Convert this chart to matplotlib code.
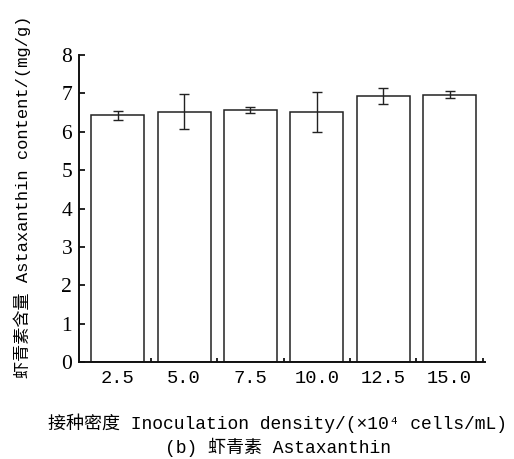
import matplotlib
matplotlib.use("Agg")
import matplotlib.pyplot as plt
import numpy as np

# inoculation density (x10^4 cells/mL) vs astaxanthin content (mg/g)
densities = ["2.5", "5.0", "7.5", "10.0", "12.5", "15.0"]
astaxanthin = [6.43, 6.53, 6.57, 6.51, 6.93, 6.97]
astaxanthin_err = [0.11, 0.45, 0.08, 0.52, 0.20, 0.10]
y_ticks = [0, 1, 2, 3, 4, 5, 6, 7, 8]

# monospace latin with CJK fallback, like a Song-style typeset figure
MONO = ["Liberation Mono", "DejaVu Sans", "Noto Sans CJK SC"]

fig = plt.figure(figsize=(5.14, 4.59), dpi=100)
ax = fig.add_axes([0.154, 0.211, 0.79, 0.669])

x = np.arange(len(densities))
ax.bar(x, astaxanthin, width=0.8, color="white", edgecolor="#222222", linewidth=1.1)
ax.errorbar(x, astaxanthin, yerr=astaxanthin_err, fmt="none", ecolor="#222222",
            elinewidth=1.0, capsize=3.5, capthick=1.0)

ax.set_xlim(-0.58, 5.535)
ax.set_ylim(0, 8)

for side in ("top", "right"):
    ax.spines[side].set_visible(False)
for side in ("left", "bottom"):
    ax.spines[side].set_linewidth(1.4)
    ax.spines[side].set_color("#111111")

ax.set_xticks(x)
ax.set_xticklabels(densities, family=MONO, fontsize=13.5)
ax.set_xticks(x + 0.5, minor=True)
ax.tick_params(axis="x", which="major", length=0, pad=6)
ax.tick_params(axis="x", which="minor", direction="in", length=3, width=1.2)

ax.set_yticks(y_ticks)
ax.set_yticklabels([str(v) for v in y_ticks], family="Liberation Serif", fontsize=15.5)
ax.tick_params(axis="y", direction="in", length=4, width=1.2, pad=5)

ax.set_ylabel("虾青素含量 Astaxanthin content/(mg/g)", family=MONO, fontsize=12.3,
              va="center")
ax.yaxis.set_label_coords(-0.14, 0.54)
fig.text(0.54, 0.078, "接种密度 Inoculation density/(×10⁴ cells/mL)",
         ha="center", va="center", family=MONO, fontsize=13)
fig.text(0.54, 0.025, "(b) 虾青素 Astaxanthin", ha="center", va="center",
         family=MONO, fontsize=13)

fig.savefig("out.png", dpi=100, facecolor="white")
